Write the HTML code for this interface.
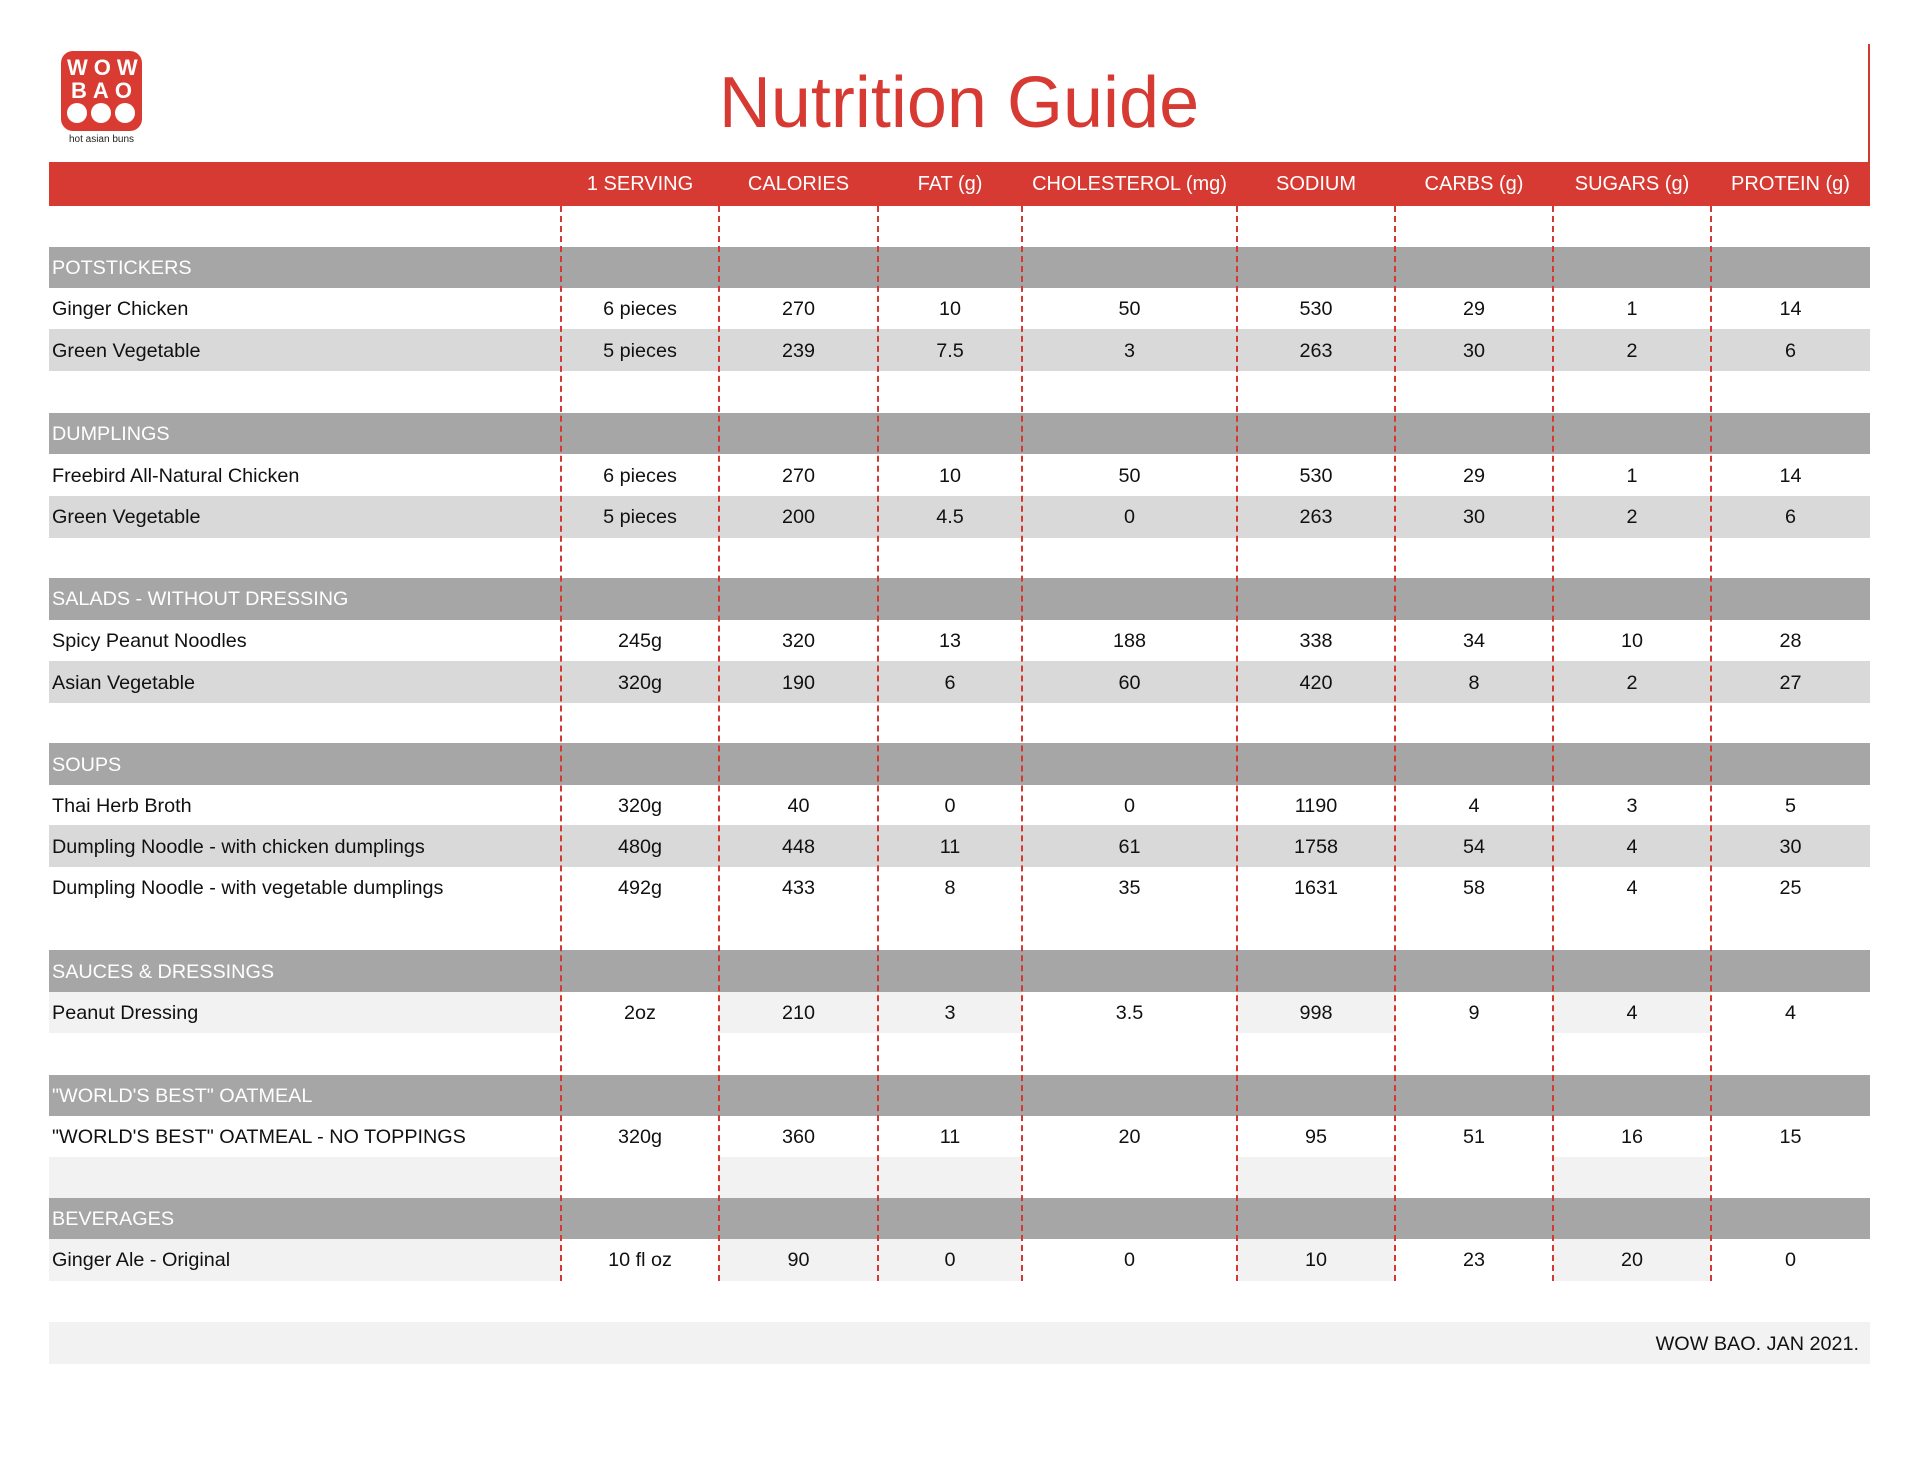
<!DOCTYPE html>
<html><head><meta charset="utf-8"><style>
*{margin:0;padding:0;box-sizing:border-box}
body{width:1920px;height:1484px;background:#fff;position:relative;overflow:hidden;font-family:"Liberation Sans",Arial,sans-serif;color:#111}
.abs{position:absolute}
.row{position:absolute;left:49px;width:1821px;height:42px}
.cell{position:absolute;top:0;height:100%;display:flex;align-items:center;justify-content:center;font-size:19.8px;padding-top:2px}
.name{justify-content:flex-start;padding-left:3px}
.sec{background:#a6a6a6;color:#fff}
.g{background:#d9d9d9}
.l{background:#f2f2f2}
.dash{position:absolute;top:206px;height:1075px;width:0;border-left:2px dashed #d03a33}
.hdr{position:absolute;top:0;height:100%;display:flex;align-items:center;justify-content:center;font-size:20px;color:#fff}
</style></head><body>

<!-- logo -->
<div class="abs" style="left:61px;top:51px;width:81px;height:80px;background:#d93a32;border-radius:12px"></div>
<div class="abs" style="left:61px;top:56px;width:81px;text-align:center;color:#fff;font-weight:bold;font-size:22px;letter-spacing:6px;padding-left:6px;line-height:23px">WOW<br>BAO</div>
<div class="abs" style="left:67px;top:103px;width:20px;height:20px;border-radius:50%;background:#fff"></div>
<div class="abs" style="left:91px;top:103px;width:20px;height:20px;border-radius:50%;background:#fff"></div>
<div class="abs" style="left:115px;top:103px;width:20px;height:20px;border-radius:50%;background:#fff"></div>
<div class="abs" style="left:56px;top:134px;width:91px;text-align:center;font-size:10px;color:#222">hot asian buns</div>

<div class="abs" style="left:600px;top:60px;width:718px;text-align:center;font-size:72px;color:#d63a32;line-height:86px">Nutrition Guide</div>
<div class="abs" style="left:1868px;top:44px;width:2px;height:120px;background:#d03a33"></div>

<!-- header bar -->
<div class="row" style="top:162px;height:44px;background:#d63a32">
<div class="hdr" style="left:512px;width:158px">1 SERVING</div>
<div class="hdr" style="left:670px;width:159px">CALORIES</div>
<div class="hdr" style="left:829px;width:144px">FAT (g)</div>
<div class="hdr" style="left:973px;width:215px">CHOLESTEROL (mg)</div>
<div class="hdr" style="left:1188px;width:158px">SODIUM</div>
<div class="hdr" style="left:1346px;width:158px">CARBS (g)</div>
<div class="hdr" style="left:1504px;width:158px">SUGARS (g)</div>
<div class="hdr" style="left:1662px;width:159px">PROTEIN (g)</div>
</div>

<div id="rows"></div>
<script>
var L=[512,670,829,973,1188,1346,1504,1662,1821];
var T=[206,247.3,287.8,329.4,371,412.7,454.3,495.9,537.6,578,619.6,661.2,702.9,743.3,784.9,825.3,867,908.6,950.2,991.9,1033.5,1075,1115.5,1157.2,1197.6,1239.2,1280.8];
var R=[
['b'],
['s','POTSTICKERS'],
['w','Ginger Chicken','6 pieces','270','10','50','530','29','1','14'],
['g','Green Vegetable','5 pieces','239','7.5','3','263','30','2','6'],
['b'],
['s','DUMPLINGS'],
['w','Freebird All-Natural Chicken','6 pieces','270','10','50','530','29','1','14'],
['g','Green Vegetable','5 pieces','200','4.5','0','263','30','2','6'],
['b'],
['s','SALADS - WITHOUT DRESSING'],
['w','Spicy Peanut Noodles','245g','320','13','188','338','34','10','28'],
['g','Asian Vegetable','320g','190','6','60','420','8','2','27'],
['b'],
['s','SOUPS'],
['w','Thai Herb Broth','320g','40','0','0','1190','4','3','5'],
['g','Dumpling Noodle - with chicken dumplings','480g','448','11','61','1758','54','4','30'],
['w','Dumpling Noodle - with vegetable dumplings','492g','433','8','35','1631','58','4','25'],
['b'],
['s','SAUCES &amp; DRESSINGS'],
['p','Peanut Dressing','2oz','210','3','3.5','998','9','4','4'],
['b'],
['s','"WORLD\'S BEST" OATMEAL'],
['w','"WORLD\'S BEST" OATMEAL - NO TOPPINGS','320g','360','11','20','95','51','16','15'],
['p'],
['s','BEVERAGES'],
['p','Ginger Ale - Original','10 fl oz','90','0','0','10','23','20','0']
];
var pat=[1,0,1,1,0,1,0,1,0];
var h='';
for(var i=0;i<R.length;i++){
 var r=R[i],t=T[i],ht=T[i+1]-T[i];
 var cls=r[0]=='s'?'sec':r[0]=='g'?'g':'';
 h+='<div class="row '+cls+'" style="top:'+t+'px;height:'+ht+'px">';
 if(r[0]=='p'){
  var xs=[0].concat(L);
  for(var k=0;k<9;k++) if(pat[k]) h+='<div class="abs l" style="left:'+xs[k]+'px;top:0;width:'+(xs[k+1]-xs[k])+'px;height:100%"></div>';
 }
 if(r.length>1) h+='<div class="cell name" style="left:0;width:512px">'+r[1]+'</div>';
 for(var j=2;j<r.length;j++){
  h+='<div class="cell" style="left:'+L[j-2]+'px;width:'+(L[j-1]-L[j-2])+'px">'+r[j]+'</div>';
 }
 h+='</div>';
}
var D=[561,719,878,1022,1237,1395,1553,1711];
for(var d=0;d<D.length;d++) h+='<div class="dash" style="left:'+(D[d]-1)+'px"></div>';
document.getElementById('rows').innerHTML=h;
</script>

<div class="row l" style="top:1322px;height:42px">
<div class="cell" style="right:11px;justify-content:flex-end;width:400px">WOW BAO. JAN 2021.</div>
</div>
</body></html>
